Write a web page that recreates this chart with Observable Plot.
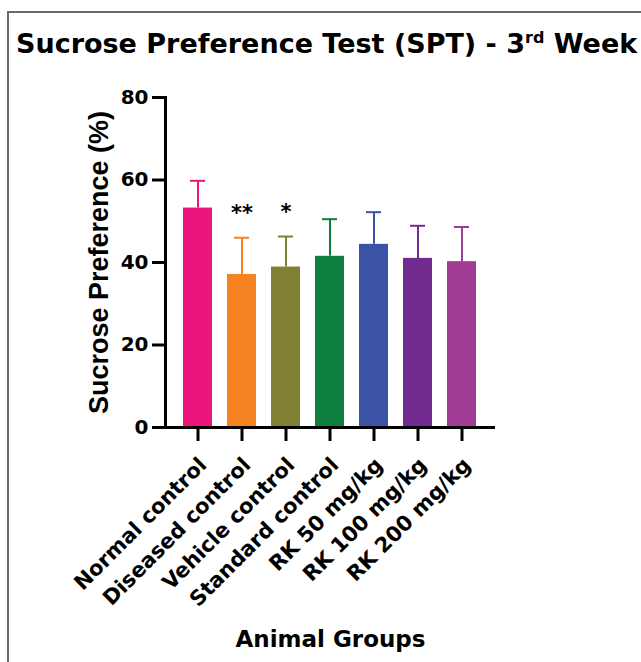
<!DOCTYPE html>
<html>
<head>
<meta charset="utf-8">
<script src="https://cdn.jsdelivr.net/npm/d3@7"></script>
<script src="https://cdn.jsdelivr.net/npm/@observablehq/plot@0.6"></script>
<style>
  html, body { margin: 0; padding: 0; background: #fff; }
  #wrap { position: relative; width: 641px; height: 662px; overflow: hidden; background: #fff; }
  #border { position: absolute; left: 7px; top: 11px; width: 700px; height: 700px;
            border-top: 2px solid #6a6a6a; border-left: 2px solid #6a6a6a; }
  #title { position: absolute; left: 16px; top: 30px; white-space: nowrap;
           font: bold 27px "DejaVu Sans", sans-serif; line-height: 1; color: #000; }
  #title sup { font-size: 16px; vertical-align: baseline; position: relative; top: -10px; }
  #chart { position: absolute; left: 0; top: 0; }
</style>
</head>
<body>
<div id="wrap">
  <div id="border"></div>
  <div id="title">Sucrose Preference Test (SPT) - 3<sup>rd</sup> Week</div>
  <div id="chart"></div>
</div>
<script>
const groups = ["Normal control", "Diseased control", "Vehicle control", "Standard control", "RK 50 mg/kg", "RK 100 mg/kg", "RK 200 mg/kg"];
const means = [53.2, 37.1, 38.9, 41.5, 44.4, 41.0, 40.2];
const sds = [6.6, 8.9, 7.4, 9.0, 7.8, 7.9, 8.4];
const marks = ["", "**", "*", "", "", "", ""];
const colors = ["#ec157d", "#f58220", "#808034", "#0e7f3e", "#3a53a4", "#712b90", "#a03c96"];
const yTicks = [0, 20, 40, 60, 80];
const yLabel = "Sucrose Preference (%)";
const xLabel = "Animal Groups";

const data = groups.map((g, i) => ({group: g, mean: means[i], sd: sds[i], sig: marks[i]}));
const font = "DejaVu Sans";

const chart = Plot.plot({
  width: 641,
  height: 662,
  marginTop: 97,
  marginBottom: 235,
  marginLeft: 165,
  marginRight: 146,
  style: {fontFamily: font, fontWeight: "bold", color: "#000", background: "transparent"},
  x: {domain: groups, paddingInner: 0.337, paddingOuter: 0.376},
  y: {domain: [0, 80]},
  color: {domain: groups, range: colors},
  marks: [
    Plot.barY(data, {x: "group", y: "mean", fill: "group"}),
    Plot.ruleX(data, {x: "group", y1: "mean", y2: d => d.mean + d.sd, stroke: "group", strokeWidth: 2}),
    Plot.tickY(data, {x: "group", y: d => d.mean + d.sd, stroke: "group", strokeWidth: 2, insetLeft: 7, insetRight: 7}),
    Plot.text(data, {x: "group", y: d => d.mean + d.sd, text: "sig", dy: -24, fontSize: 21, fontWeight: "bold", fill: "#000", lineAnchor: "middle"}),
    Plot.axisY({ticks: yTicks, tickSize: 13, tickPadding: 4, strokeWidth: 3, fontSize: 20, fontWeight: "bold", label: null}),
    Plot.axisX({tickSize: 14, strokeWidth: 3, tickFormat: () => "", label: null}),
    Plot.text(groups, {x: d => d, frameAnchor: "bottom", rotate: -45, textAnchor: "end", lineAnchor: "middle", dx: 5, dy: 34, fontSize: 21, fontWeight: "bold", fill: "#000"}),
    Plot.frame({anchor: "left", strokeWidth: 3}),
    Plot.ruleY([0], {strokeWidth: 3}),
    Plot.text([yLabel], {frameAnchor: "left", rotate: -90, dx: -66, textAnchor: "middle", lineAnchor: "middle", fontSize: 27, fontWeight: "bold", fontFamily: "Liberation Sans", fill: "#000"}),
    Plot.text([xLabel], {frameAnchor: "bottom", dy: 212, textAnchor: "middle", lineAnchor: "middle", fontSize: 23, fontWeight: "bold", fill: "#000"})
  ]
});
document.getElementById("chart").appendChild(chart);
</script>
</body>
</html>
